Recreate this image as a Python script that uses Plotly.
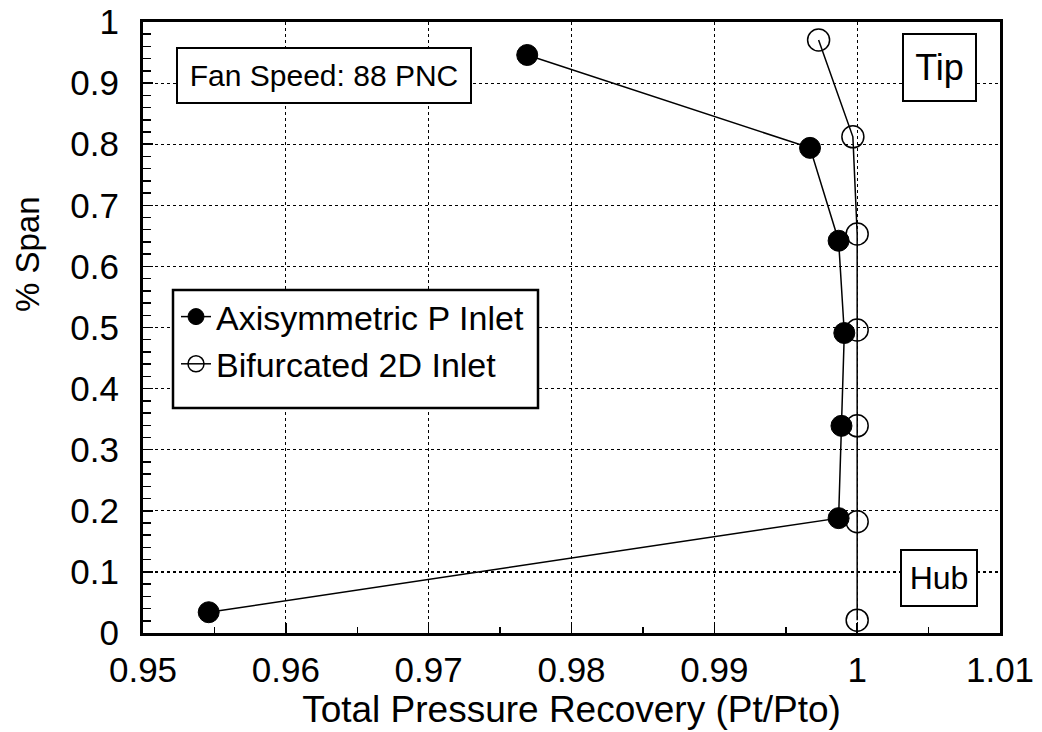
import plotly.graph_objects as go

# Data
axi_recovery = [0.9546, 0.9987, 0.9989, 0.9991, 0.9987, 0.9967, 0.9769]
axi_span = [0.034, 0.188, 0.339, 0.491, 0.642, 0.794, 0.946]

bif_recovery = [1.0000, 1.0000, 1.0000, 1.0000, 1.0000, 0.9997, 0.9973]
bif_span = [0.021, 0.182, 0.339, 0.496, 0.653, 0.812, 0.9705]

x_tickvals = [0.95, 0.96, 0.97, 0.98, 0.99, 1.0, 1.01]
x_ticktext = ["0.95", "0.96", "0.97", "0.98", "0.99", "1", "1.01"]
y_tickvals = [0, 0.1, 0.2, 0.3, 0.4, 0.5, 0.6, 0.7, 0.8, 0.9, 1.0]
y_ticktext = ["0", "0.1", "0.2", "0.3", "0.4", "0.5", "0.6", "0.7", "0.8", "0.9", "1"]

FONT = "Liberation Sans, Arial, Helvetica, sans-serif"

OFF = 0  # body margin removed by post_script
W, H = 1042, 732
L, T = 143, 22
R = W - 1000
B = H - 633
PW, PH = W - L - R, H - T - B


def px(xp):
    return (xp - OFF - L) / PW


def py(yp):
    return (H - B - (yp - OFF)) / PH


fig = go.Figure()
fig.add_trace(go.Scatter(
    x=axi_recovery, y=axi_span, mode="lines+markers",
    name="Axisymmetric P Inlet",
    line=dict(color="black", width=1.5),
    marker=dict(symbol="circle", size=21, color="black",
                line=dict(color="black", width=1)),
))
fig.add_trace(go.Scatter(
    x=bif_recovery, y=bif_span, mode="lines+markers",
    name="Bifurcated 2D Inlet",
    line=dict(color="black", width=1.5),
    marker=dict(symbol="circle-open", size=22, color="black",
                line=dict(color="black", width=1.5)),
))

fig.update_layout(
    width=W, height=H,
    margin=dict(l=L, r=R, t=T, b=B),
    paper_bgcolor="white", plot_bgcolor="white",
    font=dict(family=FONT, color="black"),
    legend=dict(
        x=px(176), y=py(288), xanchor="left", yanchor="top",
        bgcolor="rgba(0,0,0,0)", borderwidth=0,
        font=dict(size=34, family=FONT, color="black"),
        tracegroupgap=0, itemwidth=30,
    ),
    xaxis=dict(
        range=[0.95, 1.01], tickvals=x_tickvals, ticktext=x_ticktext,
        automargin=False, ticklabeloverflow="allow",
        showgrid=True, gridcolor="black", griddash="dot", gridwidth=1.2,
        zeroline=False, showline=True, linecolor="black", linewidth=3,
        mirror=True, ticks="inside", ticklen=10, tickwidth=1.5,
        tickcolor="black",
        tickfont=dict(size=35, family=FONT, color="black"),
        ticklabelstandoff=4,
        minor=dict(dtick=0.005, ticks="inside", ticklen=6, tickwidth=1.5,
                   tickcolor="black", showgrid=False),
        title=dict(text="Total Pressure Recovery (Pt/Pto)",
                   font=dict(size=37, family=FONT, color="black"),
                   standoff=6),
    ),
    yaxis=dict(
        range=[0, 1], tickvals=y_tickvals, ticktext=y_ticktext,
        automargin=False, ticklabeloverflow="allow",
        showgrid=True, gridcolor="black", griddash="dot", gridwidth=1.2,
        zeroline=False, showline=True, linecolor="black", linewidth=3,
        mirror=True, ticks="inside", ticklen=10, tickwidth=1.5,
        tickcolor="black",
        tickfont=dict(size=35, family=FONT, color="black"),
        minor=dict(dtick=0.02, ticks="inside", ticklen=8, tickwidth=1.5,
                   tickcolor="black", showgrid=False),
        ticklabelstandoff=14,
    ),
)

# Legend frame (white box behind the legend)
fig.add_shape(
    type="rect", xref="paper", yref="paper",
    x0=px(173), x1=px(538), y0=py(408), y1=py(290),
    line=dict(color="black", width=2.5), fillcolor="white", layer="above",
)

# Y axis title (placed above centre as in the reference)
fig.add_annotation(
    text="% Span", xref="paper", yref="paper",
    x=px(28), y=py(254), textangle=-90, showarrow=False,
    font=dict(size=33, family=FONT, color="black"),
    xanchor="center", yanchor="middle",
)

boxes = [
    ("Fan Speed: 88 PNC", px(324), py(76), 30, 290, 51),
    ("Tip", px(939.5), py(67.5), 36, 69, 63),
    ("Hub", px(939), py(578), 32, 72, 52),
]
for text, bx, by, fs, w, h in boxes:
    fig.add_annotation(
        text=text, xref="paper", yref="paper", x=bx, y=by,
        xanchor="center", yanchor="middle", showarrow=False,
        font=dict(size=fs, family=FONT, color="black"),
        bgcolor="white", bordercolor="black", borderwidth=2,
        borderpad=1, width=w, height=h,
    )

fig.write_html(
    "out.html",
    config={"displayModeBar": False, "staticPlot": True},
    post_script="document.body.style.margin='0';document.body.style.overflow='hidden';",
)
